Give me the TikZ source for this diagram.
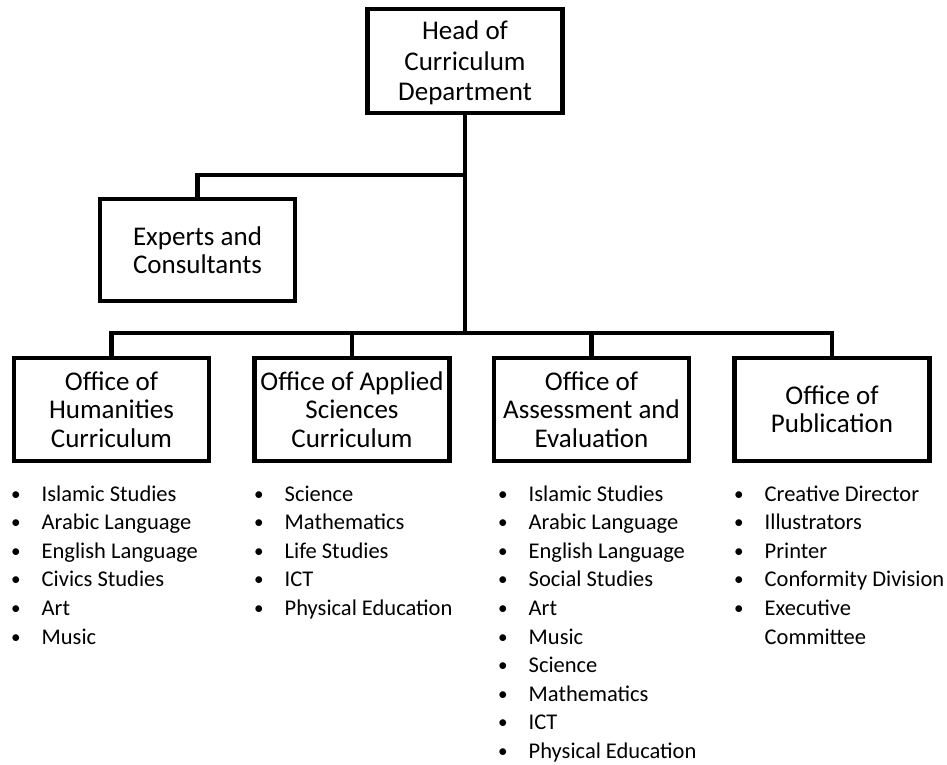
\documentclass[tikz,border=0pt]{standalone}
\usepackage{fontspec}
\setmainfont{Carlito}
\usepackage{array}
\usepackage{graphicx}
% bullet list laid out as a two-column table: bullet, then entry
\newcommand\bulletlist[1]{\begin{tabular}[t]{@{}p{30.5pt}@{}l@{}}#1\end{tabular}}
\newcommand\smallbullet{\raisebox{1pt}{\scalebox{0.85}{\textbullet}}}
\newcommand\bt{\smallbullet&}
\begin{document}
\begin{tikzpicture}[x=1pt,y=-1pt,
  box/.style={draw, line width=4.5pt, minimum width=195pt, minimum height=103pt,
    align=center, inner sep=0pt, font=\fontsize{27}{28.4}\selectfont},
  conn/.style={line width=4.5pt},
  items/.style={anchor=base west, inner sep=0pt, font=\fontsize{22.5}{28.6}\selectfont}]
\useasboundingbox (0,0) rectangle (947,764);

% boxes
\node[box, minimum height=104pt, font=\fontsize{27}{30.5}\selectfont] (head) at (465,61)
  {Head of\\Curriculum\\\smash{Department}};
\node[box, minimum height=102pt] (experts) at (197.5,250) {Experts and\\Consultants};
\node[box] (hum) at (111.5,409.5) {Office of\\Humanities\\Curriculum};
\node[box] (app) at (352,409.5) {Office of Applied\\Sciences\\Curriculum};
\node[box] (ass) at (591.5,409.5) {Office of\\Assessment and\\Evaluation};
\node[box] (pub) at (832,409.5) {Office of\\Publication};

% connectors
\coordinate (split) at (465,175);
\coordinate (bus) at (465,333);
\draw[conn] (head.south) -- (bus);
\draw[conn] (split) -| (experts.north);
\draw[conn] (hum.north) |- (bus) -| (pub.north);
\draw[conn] (app.north) -- (app.north |- bus);
\draw[conn] (ass.north) -- (ass.north |- bus);

% item lists under each office
\node[items] (humlist) at (11,501) {\bulletlist{%
  \bt Islamic Studies\\ \bt Arabic Language\\ \bt English Language\\
  \bt Civics Studies\\ \bt Art\\ \bt Music}};
\node[items] (applist) at (254,501) {\bulletlist{%
  \bt Science\\ \bt Mathematics\\ \bt Life Studies\\ \bt ICT\\
  \bt Physical Education}};
\node[items] (asslist) at (498,501) {\bulletlist{%
  \bt Islamic Studies\\ \bt Arabic Language\\ \bt English Language\\
  \bt Social Studies\\ \bt Art\\ \bt Music\\ \bt Science\\
  \bt Mathematics\\ \bt ICT\\ \bt Physical Education}};
\node[items] (publist) at (734,501) {\bulletlist{%
  \bt Creative Director\\ \bt Illustrators\\ \bt Printer\\
  \bt Conformity Division\\ \bt Executive\\ & Committee}};
\end{tikzpicture}
\end{document}
